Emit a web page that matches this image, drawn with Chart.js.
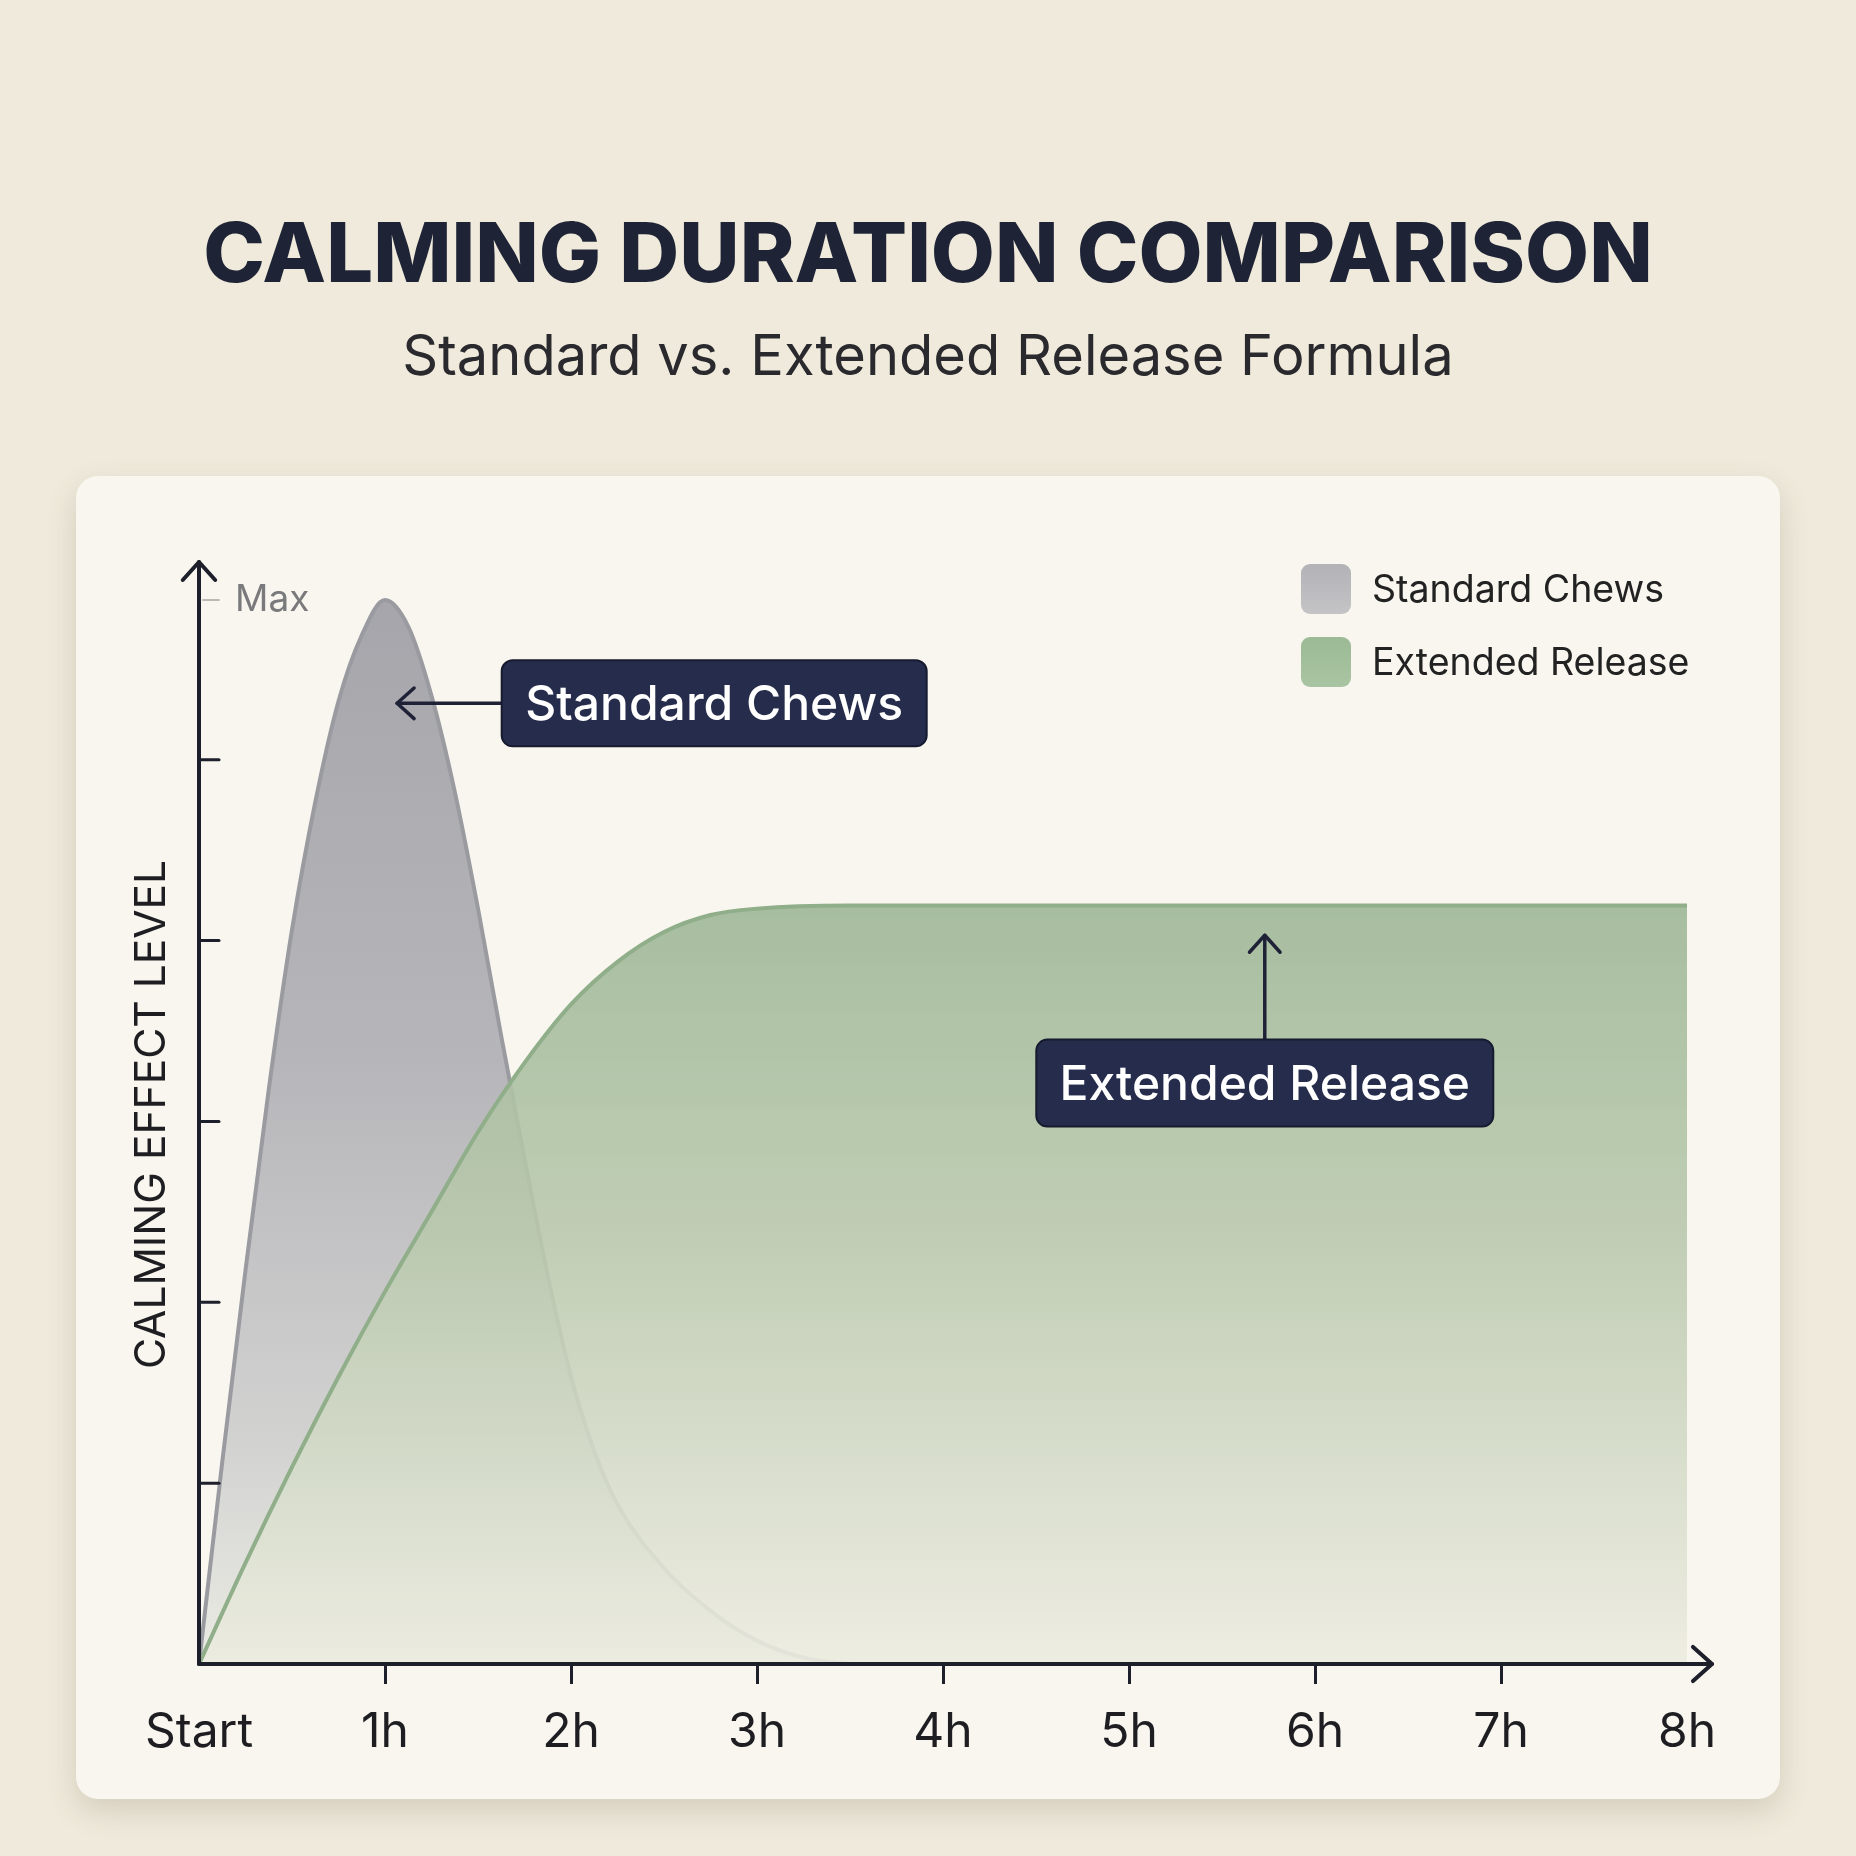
<!DOCTYPE html>
<html>
<head>
<meta charset="utf-8">
<script src="https://cdn.jsdelivr.net/npm/chart.js"></script>
<style>
  body { margin:0; width:1856px; height:1856px; background:#efeadb; font-family: Inter, "Noto Sans", sans-serif; position:relative; overflow:hidden; }
  #title { position:absolute; left:0; width:1856px; top:205px; text-align:center; font-size:83px; font-weight:800; color:#1f2336; line-height:94px; }
  #subtitle { position:absolute; left:0; width:1856px; top:322px; text-align:center; font-size:56px; font-weight:400; color:#2a2a2e; line-height:66px; }
  #card { position:absolute; left:76px; top:476px; width:1704px; height:1323px; border-radius:22px; background:#f8f6ee; box-shadow:0 12px 30px rgba(90,80,55,0.18); }
  #card canvas { position:absolute; left:0; top:0; }
  .leg { position:absolute; left:1301px; height:50px; font-size:37.5px; color:#222; }
  .leg .sw { position:absolute; left:0; top:0; width:50px; height:50px; border-radius:9px; }
  .leg span { position:absolute; left:71px; top:0; line-height:50px; white-space:nowrap; }
</style>
</head>
<body>
<div id="title">CALMING DURATION COMPARISON</div>
<div id="subtitle">Standard vs. Extended Release Formula</div>
<div id="card"><canvas id="chart" width="1704" height="1323"></canvas></div>
<div class="leg" style="top:564px"><div class="sw" style="background:linear-gradient(#b2b2b7,#c4c4c6)"></div><span>Standard Chews</span></div>
<div class="leg" style="top:637px"><div class="sw" style="background:linear-gradient(#9cba95,#a9c4a2)"></div><span>Extended Release</span></div>
<script>
const xLabels = ['Start', '1h', '2h', '3h', '4h', '5h', '6h', '7h', '8h'];
const yTicks = [0, 17, 34, 51, 68, 85, 100];

const stdHours = [0, 0.125, 0.25, 0.375, 0.5, 0.625, 0.75, 0.875, 1, 1.125, 1.25, 1.375, 1.5, 1.625, 1.75, 1.875, 2, 2.125, 2.25, 2.5, 2.75, 3, 3.25, 3.5];
const stdLevel = [0, 19, 37, 54, 69, 81, 90.5, 96.7, 100, 97.5, 91, 82, 71, 59, 47.5, 36.5, 27, 20, 15, 9, 5, 2.2, 0.6, 0];

const extHours = [0, 0.25, 0.5, 0.75, 1, 1.25, 1.5, 1.75, 2, 2.25, 2.5, 2.75, 3, 3.5, 4, 5, 6, 7, 8];
const extLevel = [0, 9.5, 18.5, 27, 35, 42.5, 50, 56.5, 62, 66, 68.8, 70.4, 71, 71.3, 71.3, 71.3, 71.3, 71.3, 71.3];

function toPoints(xs, ys){
    let pts = [];
    for (let i = 0; i < xs.length; i++){
        pts.push({x: xs[i], y: ys[i]});
    }
    return pts;
}

function fillGradient(stops){
    return function(context){
        let area = context.chart.chartArea;
        if (!area) return null;
        let g = context.chart.ctx.createLinearGradient(0, area.top, 0, area.bottom);
        for (let s of stops) g.addColorStop(s[0], s[1]);
        return g;
    }
}

function chevron(ctx, x, y, dx, dy, size){
    // arrow head pointing in direction (dx, dy)
    let px = -dy, py = dx;
    ctx.beginPath();
    ctx.moveTo(x - dx*size + px*size*0.9, y - dy*size + py*size*0.9);
    ctx.lineTo(x, y);
    ctx.lineTo(x - dx*size - px*size*0.9, y - dy*size - py*size*0.9);
    ctx.stroke();
}

function noteBox(ctx, cx, cy, w, h, text){
    ctx.save();
    ctx.fillStyle = '#262c4c';
    ctx.strokeStyle = '#171b30';
    ctx.lineWidth = 2;
    ctx.beginPath();
    ctx.roundRect(cx - w/2, cy - h/2, w, h, 11);
    ctx.fill();
    ctx.stroke();
    ctx.fillStyle = '#ffffff';
    ctx.font = '500 48px Inter';
    ctx.textAlign = 'center';
    ctx.textBaseline = 'middle';
    ctx.fillText(text, cx, cy + 2);
    ctx.restore();
}

const axesAndNotes = {
    id: 'axesAndNotes',
    afterDatasetsDraw(chart){
        let ctx = chart.ctx;
        let a = chart.chartArea;
        let xs = chart.scales.x, ys = chart.scales.y;
        ctx.save();
        ctx.lineCap = 'round';
        ctx.lineJoin = 'round';

        // y tick marks drawn inward
        for (let v of yTicks){
            if (v === 0) continue;
            let py = ys.getPixelForValue(v);
            ctx.beginPath();
            if (v === 100){
                ctx.strokeStyle = '#b9b9b6';
                ctx.lineWidth = 2;
                ctx.moveTo(a.left + 4, py);
            } else {
                ctx.strokeStyle = '#1d1f2b';
                ctx.lineWidth = 3;
                ctx.moveTo(a.left, py);
            }
            ctx.lineTo(a.left + 20, py);
            ctx.stroke();
        }

        // axes with arrows
        ctx.strokeStyle = '#1d1f2b';
        ctx.lineWidth = 4;
        ctx.beginPath();
        ctx.moveTo(a.left, a.bottom);
        ctx.lineTo(a.left, a.top - 3);
        ctx.stroke();
        chevron(ctx, a.left, a.top - 3, 0, -1, 18);
        ctx.beginPath();
        ctx.moveTo(a.left, a.bottom);
        ctx.lineTo(a.right + 25, a.bottom);
        ctx.stroke();
        chevron(ctx, a.right + 25, a.bottom, 1, 0, 19);

        // callouts
        ctx.strokeStyle = '#1f2236';
        ctx.lineWidth = 3.5;
        let sTip = xs.getPixelForValue(1.065), sY = ys.getPixelForValue(90.3);
        let sLeft = xs.getPixelForValue(1.63);
        ctx.beginPath();
        ctx.moveTo(sLeft, sY);
        ctx.lineTo(sTip, sY);
        ctx.stroke();
        chevron(ctx, sTip, sY, -1, 0, 17);
        noteBox(ctx, sLeft + 212, sY, 425, 86, 'Standard Chews');

        let eX = xs.getPixelForValue(5.73), eTip = ys.getPixelForValue(68.5);
        let eY = ys.getPixelForValue(54.6);
        ctx.beginPath();
        ctx.moveTo(eX, eY - 43);
        ctx.lineTo(eX, eTip);
        ctx.stroke();
        chevron(ctx, eX, eTip, 0, -1, 17);
        noteBox(ctx, eX, eY, 457, 87, 'Extended Release');
        ctx.restore();
    }
};

const chart = new Chart(document.getElementById('chart'), {
    type: 'line',
    data: {
        datasets: [
            {
                label: 'Standard Chews',
                data: toPoints(stdHours, stdLevel),
                borderColor: '#9a9aa1',
                borderWidth: 4,
                backgroundColor: fillGradient([[0, '#a4a4aa'], [0.45, '#b6b6ba'], [0.8, '#d2d2d1'], [1, '#ebebe4']]),
                fill: 'origin',
                pointRadius: 0,
                cubicInterpolationMode: 'monotone',
                order: 2
            },
            {
                label: 'Extended Release',
                data: toPoints(extHours, extLevel),
                borderColor: '#8fae89',
                borderWidth: 4,
                backgroundColor: fillGradient([[0.3, 'rgba(160,184,153,0.93)'], [0.6, 'rgba(184,200,172,0.9)'], [1, 'rgba(236,236,224,0.9)']]),
                fill: 'origin',
                pointRadius: 0,
                cubicInterpolationMode: 'monotone',
                order: 1
            }
        ]
    },
    options: {
        responsive: false,
        animation: false,
        devicePixelRatio: 1,
        layout: { padding: { left: 0, top: 89, right: 93, bottom: 0 } },
        plugins: { legend: { display: false }, tooltip: { enabled: false } },
        scales: {
            x: {
                type: 'linear',
                min: 0,
                max: 8,
                afterFit: function(scale){ scale.height = 135; },
                afterBuildTicks: function(scale){ scale.ticks = xLabels.map(function(l, i){ return {value: i}; }); },
                border: { display: false },
                grid: {
                    drawOnChartArea: false,
                    drawTicks: true,
                    tickLength: 20,
                    lineWidth: 3,
                    color: function(c){ return (c.index === 0 || c.index === xLabels.length - 1) ? 'rgba(0,0,0,0)' : '#1d1f2b'; }
                },
                ticks: {
                    padding: 20,
                    maxRotation: 0,
                    color: '#1e1e22',
                    font: { family: 'Inter', size: 48 },
                    callback: function(v){ return xLabels[v]; }
                }
            },
            y: {
                min: 0,
                max: 103.3,
                afterFit: function(scale){ scale.width = 123; },
                afterBuildTicks: function(scale){ scale.ticks = yTicks.map(function(v){ return {value: v}; }); },
                border: { display: false },
                grid: { display: false },
                title: {
                    display: true,
                    text: 'CALMING EFFECT LEVEL',
                    color: '#1e1e22',
                    font: { family: 'Inter', size: 42.5 },
                    padding: { top: 51, bottom: 0 }
                },
                ticks: {
                    mirror: true,
                    padding: 36,
                    color: '#7a7a7c',
                    font: { family: 'Inter', size: 37 },
                    callback: function(v){ return v === 100 ? 'Max' : ''; }
                }
            }
        }
    },
    plugins: [axesAndNotes]
});
</script>
</body>
</html>
